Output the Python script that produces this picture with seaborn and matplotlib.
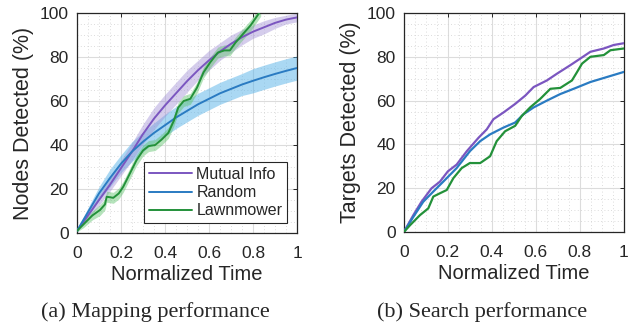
import numpy as np
import pandas as pd
import matplotlib
matplotlib.use("Agg")
import matplotlib.pyplot as plt
import seaborn as sns
from matplotlib.ticker import MultipleLocator, FixedLocator

# ---- data ----
# (a) mapping performance
T_MAP = [0, 0.05, 0.1, 0.15, 0.2, 0.25, 0.3, 0.35, 0.4, 0.45, 0.5,
         0.55, 0.6, 0.65, 0.7, 0.75, 0.8, 0.85, 0.9, 0.95, 1.0]
MI_MAP = [1, 8, 15, 22, 29.5, 37, 45, 52, 58, 63.5, 69,
          74, 78.5, 82.5, 86, 89, 91.5, 93.5, 95.5, 97, 98]
MI_SPREAD = [0.5, 1.5, 2.5, 3, 3.5, 4, 4.5, 5, 5, 5, 5,
             4.5, 4.5, 4, 4, 3.5, 3, 3, 2.5, 2, 2]
RND_MAP = [1, 9.5, 18, 25, 31.5, 37, 41.5, 45.5, 49, 52.5, 55.5,
           58.5, 61, 63.5, 65.5, 67.5, 69.2, 70.8, 72.3, 73.7, 75]
RND_SPREAD = [0.5, 2, 3, 4, 4, 4.5, 4.5, 4.5, 5, 5, 5,
              5, 5, 5, 5, 5, 5.5, 5.5, 5.5, 5.5, 5.5]
T_LAWN = [0, 0.03, 0.07, 0.105, 0.127, 0.135, 0.165, 0.19, 0.21, 0.235,
          0.27, 0.3, 0.325, 0.355, 0.385, 0.415, 0.44, 0.46, 0.485, 0.515,
          0.545, 0.575, 0.605, 0.64, 0.67, 0.695, 0.72, 0.755, 0.79, 0.835]
LAWN_MAP = [1, 4, 8, 10.5, 13, 16.5, 16, 18, 21, 26,
            33, 37.5, 39.5, 40, 42.5, 45.5, 51, 57, 60, 61,
            66, 73, 77.5, 82, 83, 83, 86.5, 90.5, 94.5, 101]
LAWN_SPREAD = [0.5, 1.5, 2, 2.5, 2.5, 2.5, 2.5, 2.5, 2.5, 2.5,
               2.5, 2.5, 2.5, 2.5, 2.5, 2.5, 2.5, 2.5, 2.5, 2.5,
               2.5, 2.5, 2.5, 2.5, 2.5, 2.5, 2.5, 2.5, 2.5, 2.5]

# (b) search performance
T_MI_S = [0, 0.043, 0.08, 0.103, 0.126, 0.164, 0.2, 0.24, 0.286, 0.339,
          0.377, 0.407, 0.453, 0.506, 0.552, 0.59, 0.65, 0.696, 0.757,
          0.802, 0.848, 0.909, 0.954, 1.0]
MI_SEARCH = [0, 7.7, 13.8, 16.9, 20, 23, 27.7, 30.8, 36.9, 43,
             46.9, 51.5, 54.6, 58.5, 62.3, 66.2, 69.2, 72.3, 76.2,
             79.2, 82.3, 83.8, 85.4, 86.2]
T_RND_S = [0, 0.043, 0.088, 0.134, 0.179, 0.24, 0.3, 0.347, 0.392, 0.453,
           0.506, 0.544, 0.59, 0.65, 0.711, 0.772, 0.848, 0.924, 1.0]
RND_SEARCH = [0, 6.9, 13.8, 18.5, 23, 29.2, 36.9, 41.5, 44.6, 47.7,
              50, 53.8, 56.9, 60, 63, 65.4, 68.5, 70.8, 73.1]
T_LAWN_S = [0, 0.027, 0.073, 0.111, 0.134, 0.164, 0.195, 0.225, 0.263, 0.3,
            0.347, 0.392, 0.422, 0.46, 0.506, 0.536, 0.574, 0.62, 0.666,
            0.711, 0.764, 0.787, 0.81, 0.848, 0.909, 0.939, 1.0]
LAWN_SEARCH = [0, 3, 7.7, 10.8, 16.2, 17.7, 19.2, 24.6, 29.2, 31.5,
               31.5, 34.6, 41.5, 46, 48.5, 53, 56.9, 60.8, 65.4,
               65.8, 69.2, 73, 76.9, 80, 80.8, 83, 83.8]

LABELS = ["Mutual Info", "Random", "Lawnmower"]
COLORS = {"Mutual Info": "#7b56c0", "Random": "#2a7bc2", "Lawnmower": "#23913a"}
BAND_COLORS = {"Mutual Info": "#a292d6", "Random": "#56b2e8", "Lawnmower": "#5cc26a"}
XTICKS = [0, 0.2, 0.4, 0.6, 0.8, 1]
XTICKLABELS = ["0", "0.2", "0.4", "0.6", "0.8", "1"]
YTICKS = [0, 20, 40, 60, 80, 100]

sns.set_style("white")
plt.rcParams["font.family"] = ["Liberation Sans", "DejaVu Sans"]

fig = plt.figure(figsize=(6.39, 3.25), dpi=100)
ax1 = fig.add_axes([0.1205, 0.283, 0.3443, 0.677])
ax2 = fig.add_axes([0.632, 0.286, 0.3443, 0.674])

df_map = pd.concat([
    pd.DataFrame({"t": T_MAP, "v": MI_MAP, "s": MI_SPREAD, "method": "Mutual Info"}),
    pd.DataFrame({"t": T_MAP, "v": RND_MAP, "s": RND_SPREAD, "method": "Random"}),
    pd.DataFrame({"t": T_LAWN, "v": LAWN_MAP, "s": LAWN_SPREAD, "method": "Lawnmower"}),
])
df_search = pd.concat([
    pd.DataFrame({"t": T_MI_S, "v": MI_SEARCH, "method": "Mutual Info"}),
    pd.DataFrame({"t": T_RND_S, "v": RND_SEARCH, "method": "Random"}),
    pd.DataFrame({"t": T_LAWN_S, "v": LAWN_SEARCH, "method": "Lawnmower"}),
])

# shaded bands (random first, then mutual info, then lawnmower)
for name, alpha in [("Random", 0.5), ("Mutual Info", 0.45), ("Lawnmower", 0.45)]:
    d = df_map[df_map["method"] == name]
    ax1.fill_between(d["t"], d["v"] - d["s"], d["v"] + d["s"],
                     color=BAND_COLORS[name], alpha=alpha, linewidth=0, zorder=2)

sns.lineplot(data=df_map, x="t", y="v", hue="method", hue_order=LABELS,
             palette=COLORS, linewidth=1.4, sort=False, estimator=None,
             ax=ax1, zorder=3)
sns.lineplot(data=df_search, x="t", y="v", hue="method", hue_order=LABELS,
             palette=COLORS, linewidth=1.6, sort=False, estimator=None,
             ax=ax2, zorder=3, legend=False)

for ax, ylabel in [(ax1, "Nodes Detected (%)"), (ax2, "Targets Detected (%)")]:
    ax.set_xlim(0, 1)
    ax.set_ylim(0, 100)
    ax.xaxis.set_major_locator(FixedLocator(XTICKS))
    ax.set_xticklabels(XTICKLABELS)
    ax.yaxis.set_major_locator(FixedLocator(YTICKS))
    ax.xaxis.set_minor_locator(MultipleLocator(0.05))
    ax.yaxis.set_minor_locator(MultipleLocator(5))
    ax.grid(True, which="major", color="#dcdcdc", linewidth=0.8, zorder=0)
    ax.grid(True, which="minor", color="#d0d0d0", linestyle=(0, (1, 3)),
            linewidth=0.6, zorder=0)
    ax.set_axisbelow(True)
    ax.tick_params(axis="both", which="major", direction="in", length=3,
                   width=0.7, top=True, right=True, labelsize=12.5,
                   colors="#262626")
    ax.tick_params(axis="x", which="major", pad=9)
    ax.tick_params(axis="y", which="major", pad=6)
    ax.tick_params(axis="both", which="minor", length=0)
    for sp in ax.spines.values():
        sp.set_color("#262626")
        sp.set_linewidth(0.9)
        sp.set_visible(True)
    ax.set_xlabel("Normalized Time", fontsize=14.5, color="#262626", labelpad=3)
    ax.set_ylabel(ylabel, fontsize=15.5, color="#262626", labelpad=4)

leg = ax1.legend(loc="lower right", bbox_to_anchor=(0.955, 0.045),
                 borderaxespad=0, fontsize=11.5, frameon=True, fancybox=False,
                 framealpha=1, edgecolor="#262626", handlelength=2.7,
                 handletextpad=0.25, labelspacing=0.2, borderpad=0.3)
leg.get_frame().set_linewidth(0.8)
leg.set_zorder(5)

fig.text(0.2426, 0.04, "(a) Mapping performance", ha="center", va="center",
         fontsize=16, family=["Liberation Serif", "DejaVu Serif"])
fig.text(0.755, 0.04, "(b) Search performance", ha="center", va="center",
         fontsize=16, family=["Liberation Serif", "DejaVu Serif"])

fig.savefig("out.png", dpi=100)
